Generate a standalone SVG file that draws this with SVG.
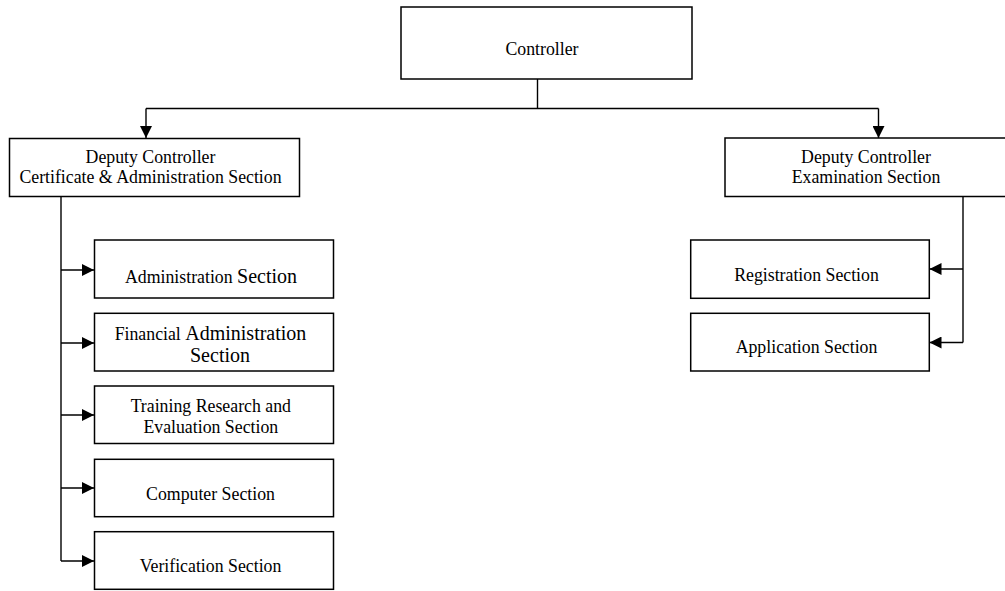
<svg xmlns="http://www.w3.org/2000/svg" width="1005" height="591" viewBox="0 0 1005 591">
<style>
.box{fill:#fff;stroke:#000;stroke-width:1.5}
.t{font-family:"Liberation Serif","Times New Roman",serif;font-size:17.8px;fill:#000;text-anchor:middle}
.big{font-size:20px}
.c{fill:none;stroke:#000;stroke-width:1.4}
</style>
<defs>
<marker id="ah" viewBox="0 0 10 10" refX="10" refY="5" markerWidth="13" markerHeight="12" markerUnits="userSpaceOnUse" orient="auto">
<path d="M0,0 L10,5 L0,10 Z" fill="#000"/>
</marker>
</defs>
<rect width="1005" height="591" fill="#fff"/>
<g id="connectors">
<path class="c" d="M537.5,79 V108.5"/>
<path class="c" d="M146,108.5 H878.5"/>
<path class="c" d="M146,108.5 V138" marker-end="url(#ah)"/>
<path class="c" d="M878.5,108.5 V138" marker-end="url(#ah)"/>
<path class="c" d="M61,197 V561"/>
<path class="c" d="M61,270 H94" marker-end="url(#ah)"/>
<path class="c" d="M61,343 H94" marker-end="url(#ah)"/>
<path class="c" d="M61,415 H94" marker-end="url(#ah)"/>
<path class="c" d="M61,488 H94" marker-end="url(#ah)"/>
<path class="c" d="M61,561 H94" marker-end="url(#ah)"/>
<path class="c" d="M963,197 V342.5"/>
<path class="c" d="M963,269 H929.5" marker-end="url(#ah)"/>
<path class="c" d="M963,342.5 H929.5" marker-end="url(#ah)"/>
</g>
<g id="controller">
<rect class="box" x="401" y="7" width="291" height="72"/>
<text class="t" x="542" y="55">Controller</text>
</g>
<g id="deputy-cert">
<rect class="box" x="9.5" y="138.5" width="290" height="58"/>
<text class="t" x="150.5" y="163.3">Deputy Controller</text>
<text class="t" x="150.5" y="183.3">Certificate &amp; Administration Section</text>
</g>
<g id="deputy-exam">
<rect class="box" x="725" y="138" width="290" height="58.5"/>
<text class="t" x="866" y="163.3">Deputy Controller</text>
<text class="t" x="866" y="183.3">Examination Section</text>
</g>
<g id="administration">
<rect class="box" x="94.5" y="240" width="239" height="58"/>
<text class="t" x="211" y="283.3">Administration <tspan class="big">Section</tspan></text>
</g>
<g id="financial">
<rect class="box" x="94.5" y="313.3" width="239" height="57.7"/>
<text class="t" x="210.5" y="340">Financial <tspan class="big">Administration</tspan></text>
<text class="t big" x="220" y="361.7">Section</text>
</g>
<g id="training">
<rect class="box" x="94.5" y="386" width="239" height="57.5"/>
<text class="t" x="210.8" y="411.7">Training Research and</text>
<text class="t" x="210.8" y="432.7">Evaluation Section</text>
</g>
<g id="computer">
<rect class="box" x="94.5" y="459.3" width="239" height="57.4"/>
<text class="t" x="210.5" y="500">Computer Section</text>
</g>
<g id="verification">
<rect class="box" x="94.5" y="531.7" width="239" height="57.6"/>
<text class="t" x="210.5" y="571.7">Verification Section</text>
</g>
<g id="registration">
<rect class="box" x="690.7" y="240" width="238.6" height="58.3"/>
<text class="t" x="806.5" y="280.7">Registration Section</text>
</g>
<g id="application">
<rect class="box" x="690.7" y="313.3" width="238.6" height="57.7"/>
<text class="t" x="806.5" y="353.3">Application Section</text>
</g>
</svg>
